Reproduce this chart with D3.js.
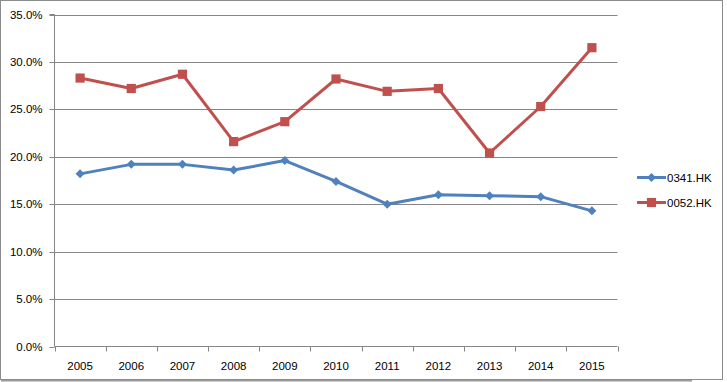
<!DOCTYPE html>
<html><head><meta charset="utf-8">
<script src="https://d3js.org/d3.v7.min.js"></script>
<style>body{margin:0;background:#fff;} svg{display:block;font-family:"Liberation Sans",Arial,sans-serif;}</style>
</head><body><svg id="c" width="727" height="382"></svg>
<script>
const years = ["2005","2006","2007","2008","2009","2010","2011","2012","2013","2014","2015"];
const s0341 = [18.2,19.2,19.2,18.6,19.6,17.4,15.0,16.0,15.9,15.8,14.3];
const s0052 = [28.3,27.2,28.7,21.6,23.7,28.2,26.9,27.2,20.4,25.3,31.5];
const seriesNames = ["0341.HK","0052.HK"];
const yTicks = [0,5,10,15,20,25,30,35];

const colors = ["#4F81BD","#C0504D"];
const series = [s0341, s0052];
const svg = d3.select("#c");
const L = 54.5, R = 617.5, T = 14.5, B = 346.5;
const grid = "#868686";
const FS = "11.5px";

// outer border + shadow
svg.append("line").attr("x1",1).attr("x2",692).attr("y1",380.5).attr("y2",380.5).attr("stroke","#9a9a9a").attr("stroke-width",2);
svg.append("rect").attr("x",0.5).attr("y",0.5).attr("width",722).attr("height",379).attr("fill","#fff").attr("stroke","#8c8c8c");

const x = d3.scaleBand().domain(years).range([L,R]).padding(0);
const y = d3.scaleLinear().domain([0,35]).range([B,T]);

// gridlines
svg.append("g").selectAll("line").data(yTicks.filter(d=>d>0)).join("line")
  .attr("x1",L).attr("x2",R).attr("y1",d=>Math.round(y(d))+0.5).attr("y2",d=>Math.round(y(d))+0.5)
  .attr("stroke",grid).attr("stroke-width",1);

// y axis
const ya = svg.append("g").attr("transform",`translate(${L},0)`)
  .call(d3.axisLeft(y).tickValues(yTicks).tickSize(5).tickPadding(7).tickFormat(d=>d.toFixed(1)+"%"));
ya.select(".domain").attr("stroke",grid).attr("d",`M-5,${T}H0V${B}`);
ya.selectAll(".tick line").attr("stroke",grid);
ya.selectAll(".tick").attr("transform",d=>`translate(0,${Math.round(y(d))+0.5})`);
ya.selectAll("text").attr("fill","#000").attr("font-size",FS).attr("font-family","Liberation Sans, Arial, sans-serif");

// x axis
const xa = svg.append("g").attr("transform",`translate(0,${B})`)
  .call(d3.axisBottom(x).tickSize(0).tickPadding(15));
xa.select(".domain").attr("stroke",grid).attr("d",`M${L},0H${R}`);
xa.selectAll("text").attr("fill","#000").attr("font-size",FS).attr("font-family","Liberation Sans, Arial, sans-serif");
// category boundary ticks
const bounds = years.map(d=>x(d)).concat([R]);
svg.append("g").selectAll("line").data(bounds).join("line")
  .attr("x1",d=>Math.round(d)+0.5).attr("x2",d=>Math.round(d)+0.5).attr("y1",B).attr("y2",B+5)
  .attr("stroke",grid);

const cx = d=>x(d)+x.bandwidth()/2;
const line = d3.line().x((d,i)=>cx(years[i])).y(d=>y(d));
const diamond = (r)=>`M0,${-r}L${r},0L0,${r}L${-r},0Z`;
const square = (r)=>`M${-r},${-r}H${r}V${r}H${-r}Z`;
const shapes = [diamond(4.5), square(4.6)];

series.forEach((s,k)=>{
  svg.append("path").datum(s).attr("d",line).attr("fill","none").attr("stroke",colors[k])
    .attr("stroke-width",3).attr("stroke-linejoin","round");
  svg.append("g").selectAll("path").data(s).join("path")
    .attr("transform",(d,i)=>`translate(${cx(years[i])},${y(d)})`)
    .attr("d",shapes[k]).attr("fill",colors[k]);
});

// legend
const ly = [177.5, 202.5];
seriesNames.forEach((n,k)=>{
  const g = svg.append("g").attr("transform",`translate(0,${ly[k]})`);
  g.append("line").attr("x1",637).attr("x2",666).attr("y1",0).attr("y2",0).attr("stroke",colors[k]).attr("stroke-width",3);
  g.append("path").attr("transform","translate(651.5,0)").attr("d",shapes[k]).attr("fill",colors[k]);
  g.append("text").attr("x",667).attr("y",0).attr("dy","0.35em").attr("font-size",FS).attr("fill","#000").text(n);
});
</script></body></html>
